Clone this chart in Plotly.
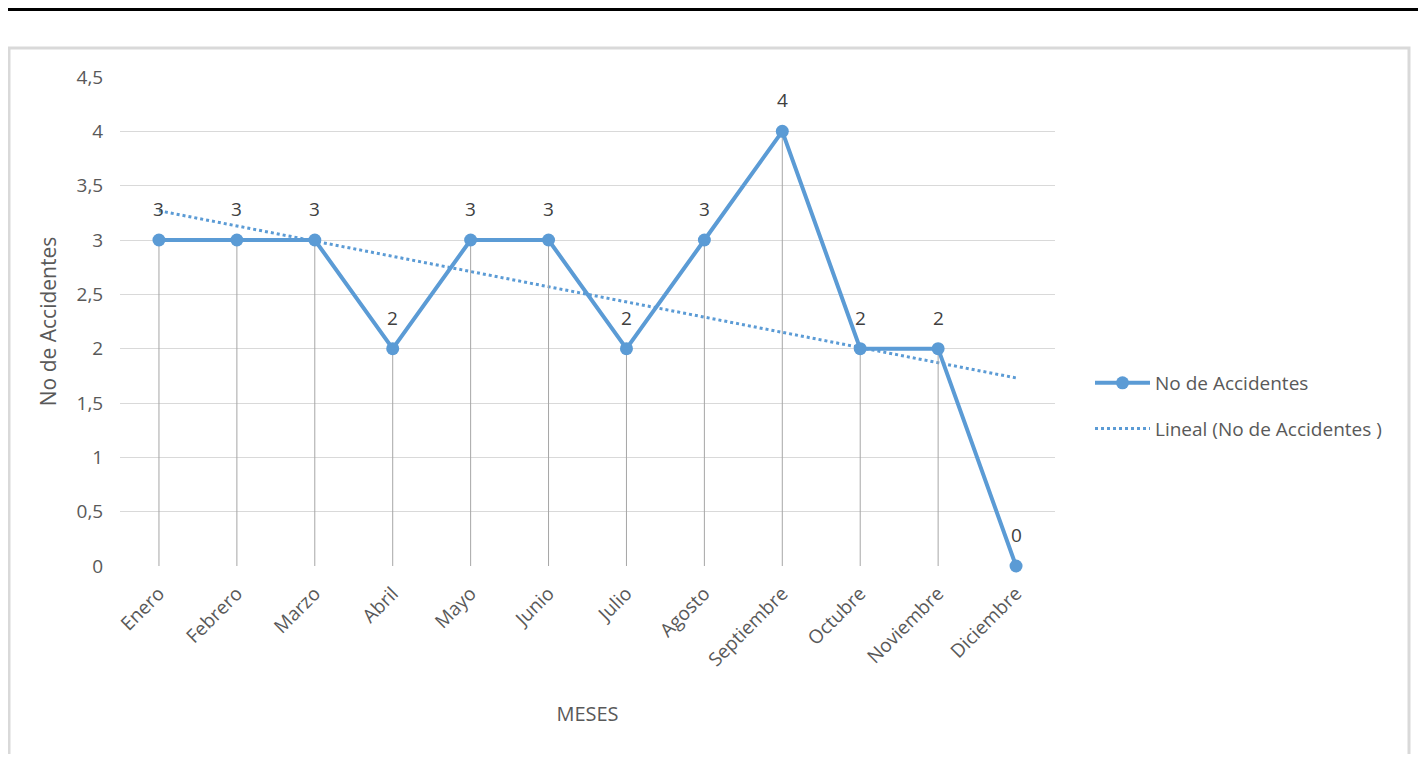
import numpy as np
import plotly.graph_objects as go

# data
meses = ["Enero", "Febrero", "Marzo", "Abril", "Mayo", "Junio", "Julio",
         "Agosto", "Septiembre", "Octubre", "Noviembre", "Diciembre"]
accidentes = [3, 3, 3, 2, 3, 3, 2, 3, 4, 2, 2, 0]

# linear trendline like Excel's "Lineal" one
idx = np.arange(1, len(meses) + 1)
pendiente, corte = np.polyfit(idx, accidentes, 1)
tendencia = pendiente * idx + corte

AZUL = "#5B9BD5"
GRIS = "#595959"
FONT = "Open Sans"

# figure size (page has 8px body margin)
W, H = 1410, 746
L, R, T, B = 112, 363, 69, 188
pw, ph = W - L - R, H - T - B


def px_x(x):
    return (x - L) / pw


def px_y(y):
    return 1 - (y - T) / ph


fig = go.Figure()

fig.add_trace(go.Scatter(
    x=meses, y=tendencia,
    mode="lines",
    name="Lineal (No de Accidentes )",
    line=dict(color=AZUL, width=3, dash="dot"),
    legendgroup="b", legendrank=2,
))

fig.add_trace(go.Scatter(
    x=meses, y=accidentes,
    mode="lines+markers",
    name="No de Accidentes",
    line=dict(color=AZUL, width=4),
    marker=dict(color=AZUL, size=13),
    error_y=dict(type="data", symmetric=False, array=[0] * len(accidentes),
                 arrayminus=accidentes, width=0, thickness=1, color="#a6a6a6"),
    legendgroup="a", legendrank=1,
    cliponaxis=False,
))

# data labels above each point
for mes, val in zip(meses, accidentes):
    fig.add_annotation(x=mes, y=val, text=str(val), showarrow=False,
                       yanchor="bottom", yshift=16,
                       font=dict(family=FONT, size=19, color="#404040"))

fig.update_layout(
    width=W, height=H,
    margin=dict(l=L, r=R, t=T, b=B),
    paper_bgcolor="white", plot_bgcolor="white",
    separators=",.",
    font=dict(family=FONT, size=19, color=GRIS),
    showlegend=True,
    legend=dict(x=px_x(1082), y=px_y(356), xanchor="left", yanchor="top",
                traceorder="grouped", tracegroupgap=18, itemwidth=55,
                font=dict(family=FONT, size=19, color=GRIS)),
    shapes=[
        dict(type="rect", xref="paper", yref="paper",
             x0=px_x(1), x1=px_x(W - 9), y0=px_y(H + 20), y1=px_y(40),
             line=dict(color="#d9d9d9", width=3), layer="below"),
        dict(type="line", xref="paper", yref="paper",
             x0=px_x(-10), x1=px_x(W + 10), y0=px_y(1.5), y1=px_y(1.5),
             line=dict(color="black", width=3)),
    ],
)

fig.update_xaxes(
    range=[-0.5, len(meses) - 0.5],
    showgrid=False, zeroline=False, showline=False,
    tickangle=-45, ticks="outside", ticklen=8, tickcolor="rgba(0,0,0,0)",
    tickfont=dict(family=FONT, size=19, color=GRIS),
    title=dict(text="MESES", font=dict(family=FONT, size=20, color=GRIS), standoff=36),
)
fig.update_yaxes(
    range=[0, 4.5], dtick=0.5,
    showgrid=True, gridcolor="#d9d9d9", gridwidth=1,
    zeroline=False, showline=False,
    ticks="outside", ticklen=12, tickcolor="rgba(0,0,0,0)",
    tickfont=dict(family=FONT, size=19, color=GRIS),
    title=dict(text="No de Accidentes", font=dict(family=FONT, size=21, color=GRIS), standoff=14),
)

fig.write_html("out.html")
